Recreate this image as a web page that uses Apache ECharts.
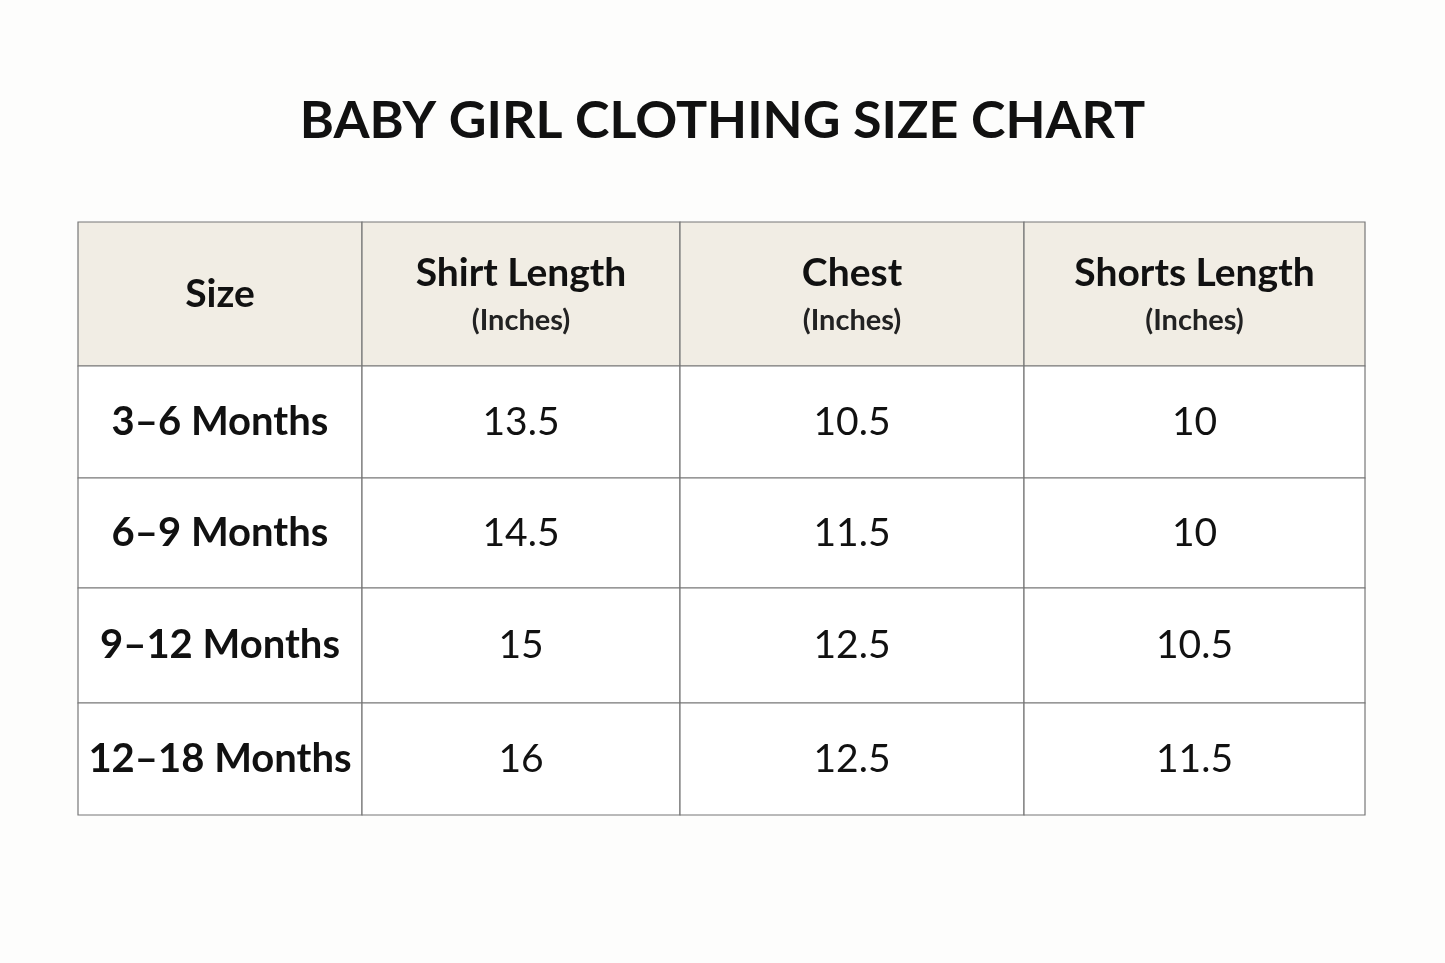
<!DOCTYPE html>
<html>
<head>
<meta charset="utf-8">
<script src="https://cdn.jsdelivr.net/npm/echarts@6/dist/echarts.min.js"></script>
<style>html,body{margin:0;padding:0;background:#fdfdfc}#main{width:1445px;height:963px}</style>
</head>
<body>
<div id="main"></div>
<script>
// table data
var headers = ['Size', 'Shirt Length', 'Chest', 'Shorts Length'];
var headerUnits = ['', '(Inches)', '(Inches)', '(Inches)'];
var sizes = ['3–6 Months', '6–9 Months', '9–12 Months', '12–18 Months'];
var shirtLength = ['13.5', '14.5', '15', '16'];
var chest = ['10.5', '11.5', '12.5', '12.5'];
var shortsLength = ['10', '10', '10.5', '11.5'];

// column / row edges in table units
var colEdges = [0, 284, 602, 946, 1287];
var rowEdges = [0, 144, 256, 366, 481, 593];

var cells = [];
headers.forEach(function (h, c) { cells.push([c, 0]); });
sizes.forEach(function (s, r) {
  for (var c = 0; c < 4; c++) cells.push([c, r + 1]);
});

function cellText(c, r) {
  if (r === 0) {
    return headerUnits[c] ? '{h|' + headers[c] + '}\n{u|' + headerUnits[c] + '}' : '{h|' + headers[c] + '}';
  }
  var cols = [sizes, shirtLength, chest, shortsLength];
  var v = cols[c][r - 1];
  return c === 0 ? '{b|' + v + '}' : '{n|' + v + '}';
}

var chart = echarts.init(document.getElementById('main'));
chart.setOption({
  backgroundColor: '#fdfdfc',
  title: {
    text: 'BABY GIRL CLOTHING SIZE CHART',
    left: 'center', top: 90,
    textStyle: { fontFamily: 'Lato', fontWeight: 'bold', fontSize: 52, color: '#111' }
  },
  grid: { left: 78, top: 222, width: 1287, height: 593 },
  xAxis: { type: 'value', min: 0, max: 1287, show: false },
  yAxis: { type: 'value', min: 0, max: 593, inverse: true, show: false },
  series: [{
    type: 'custom',
    data: cells,
    renderItem: function (params, api) {
      var c = api.value(0), r = api.value(1);
      var p0 = api.coord([colEdges[c], rowEdges[r]]);
      var p1 = api.coord([colEdges[c + 1], rowEdges[r + 1]]);
      return {
        type: 'group',
        children: [{
          type: 'rect',
          shape: { x: p0[0], y: p0[1], width: p1[0] - p0[0], height: p1[1] - p0[1] },
          style: { fill: r === 0 ? '#f1ede4' : '#ffffff', stroke: '#777', lineWidth: 1.2 }
        }, {
          type: 'text',
          x: (p0[0] + p1[0]) / 2, y: (p0[1] + p1[1]) / 2,
          style: {
            text: cellText(c, r),
            align: 'center', verticalAlign: 'middle',
            fill: '#111',
            rich: {
              h: { fontFamily: 'Lato', fontWeight: 'bold', fontSize: 39, lineHeight: 54, fill: '#111' },
              u: { fontFamily: 'Lato', fontWeight: 'bold', fontSize: 29, lineHeight: 42, fill: '#222' },
              b: { fontFamily: 'Lato', fontWeight: 'bold', fontSize: 40, fill: '#111' },
              n: { fontFamily: 'Lato', fontSize: 39, fill: '#111' }
            }
          }
        }]
      };
    }
  }]
});
</script>
</body>
</html>
